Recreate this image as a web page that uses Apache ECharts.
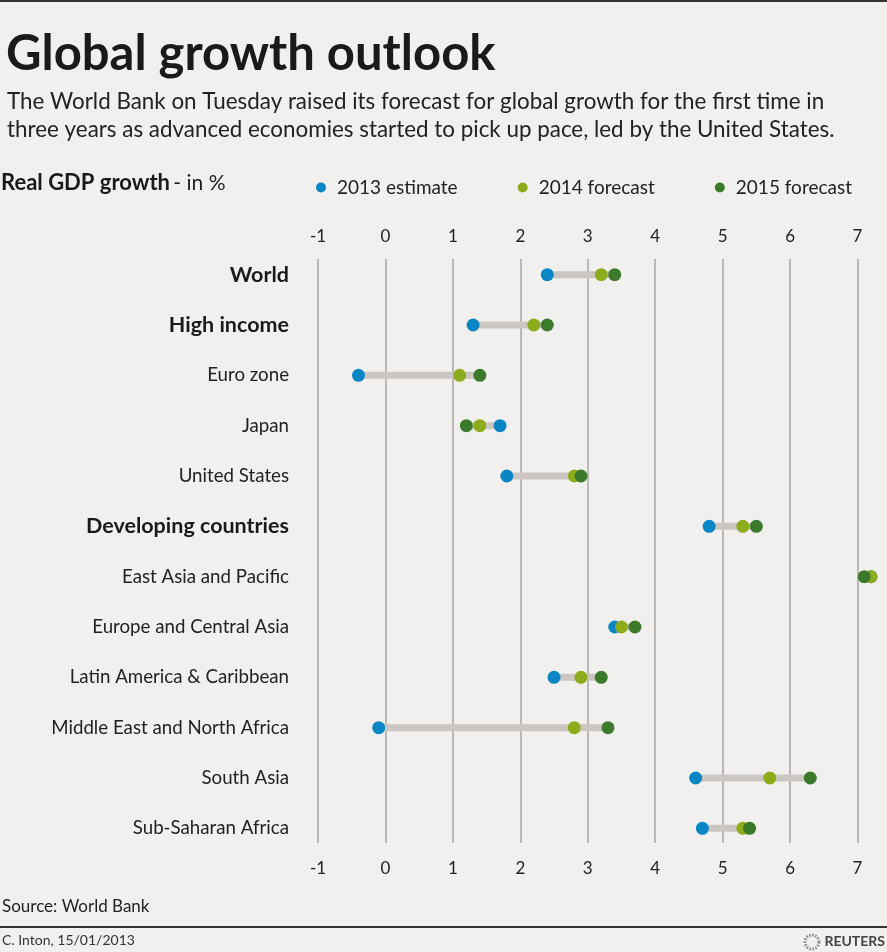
<!DOCTYPE html>
<html>
<head>
<meta charset="utf-8">
<title>Global growth outlook</title>
<script src="https://cdn.jsdelivr.net/npm/echarts@6/dist/echarts.min.js"></script>
<style>
    html, body { margin: 0; padding: 0; background: #f2f0ee; }
    #chart { width: 887px; height: 952px; }
</style>
</head>
<body>
<div id="chart"></div>
<script>
    // regions, top to bottom
    var regions = ['World', 'High income', 'Euro zone', 'Japan', 'United States',
        'Developing countries', 'East Asia and Pacific', 'Europe and Central Asia',
        'Latin America & Caribbean', 'Middle East and North Africa', 'South Asia', 'Sub-Saharan Africa'];
    var boldRegions = ['World', 'High income', 'Developing countries'];

    // real GDP growth, in %
    var est2013 = [2.4, 1.3, -0.4, 1.7, 1.8, 4.8, 7.2, 3.4, 2.5, -0.1, 4.6, 4.7];
    var fc2014  = [3.2, 2.2, 1.1, 1.4, 2.8, 5.3, 7.2, 3.5, 2.9, 2.8, 5.7, 5.3];
    var fc2015  = [3.4, 2.4, 1.4, 1.2, 2.9, 5.5, 7.1, 3.7, 3.2, 3.3, 6.3, 5.4];

    var axisTicks = [-1, 0, 1, 2, 3, 4, 5, 6, 7];

    var seriesNames = ['2013 estimate', '2014 forecast', '2015 forecast'];
    var colors = ['#0a86c5', '#8dac1c', '#3b7a2b'];

    var FONT = 'Lato';

    (function(){
        var myChart = echarts.init(document.getElementById('chart'));

        function points(arr){
            return arr.map(function(v, i){ return [v, i]; });
        }

        // range from lowest to highest value for the grey connector
        var ranges = regions.map(function(r, i){
            var vals = [est2013[i], fc2014[i], fc2015[i]];
            return [Math.min.apply(null, vals), Math.max.apply(null, vals), i];
        });

        var xMin = axisTicks[0], xMax = axisTicks[axisTicks.length - 1];

        function dotSeries(k, arr){
            return {
                name: seriesNames[k], type: 'scatter',
                xAxisIndex: 2, yAxisIndex: 1,
                clip: false,
                symbolSize: 13, itemStyle: { color: colors[k], opacity: 1 },
                data: points(arr)
            };
        }

        var option = {
            backgroundColor: '#f2f0ee',
            textStyle: { fontFamily: FONT },
            animation: false,
            title: [{
                text: 'Global growth outlook',
                left: 1, top: 25,
                textStyle: { fontFamily: FONT, fontSize: 49, fontWeight: 'bold', color: '#1a1a1a' }
            }, {
                text: 'The World Bank on Tuesday raised its forecast for global growth for the first time in\nthree years as advanced economies started to pick up pace, led by the United States.',
                left: 2, top: 83,
                textStyle: { fontFamily: FONT, fontSize: 22.4, fontWeight: 'normal', color: '#222', lineHeight: 28 }
            }],
            legend: {
                data: seriesNames,
                left: 311, top: 173,
                icon: 'circle',
                itemWidth: 10, itemHeight: 10,
                itemGap: 60,
                textStyle: { fontFamily: FONT, fontSize: 19, color: '#222', padding: [0, 0, 0, 6] }
            },
            graphic: [
                { type: 'rect', shape: { x: 0, y: 0, width: 887, height: 2 }, style: { fill: '#333' } },
                { type: 'rect', shape: { x: 0, y: 926, width: 887, height: 2 }, style: { fill: '#333' } },
                {
                    type: 'text', left: 1, top: 172,
                    style: {
                        text: '{b|Real GDP growth} {n|- in %}',
                        rich: {
                            b: { fontFamily: FONT, fontSize: 22, fontWeight: 'bold', fill: '#1a1a1a' },
                            n: { fontFamily: FONT, fontSize: 21, fill: '#222' }
                        }
                    }
                },
                {
                    type: 'text', left: 2, top: 898,
                    style: { text: 'Source: World Bank', fontFamily: FONT, fontSize: 17, fill: '#222' }
                },
                {
                    type: 'text', left: 2, top: 933,
                    style: { text: 'C. Inton, 15/01/2013', fontFamily: FONT, fontSize: 14, fill: '#333' }
                },
                {
                    type: 'circle', shape: { cx: 812, cy: 942, r: 7 },
                    style: { fill: 'none', stroke: '#888', lineWidth: 3, lineDash: [1.5, 1.5] }
                },
                {
                    type: 'text', right: 2, top: 934,
                    style: { text: 'REUTERS', fontFamily: FONT, fontSize: 14, fontWeight: 'bold', fill: '#444' }
                }
            ],
            grid: [
                { left: 318, right: 29.5, top: 259, bottom: 109 },
                { left: 318, right: 29.5, top: 249.5, bottom: 98.5 }
            ],
            xAxis: [{
                gridIndex: 0, type: 'value', position: 'top',
                min: xMin, max: xMax, interval: 1,
                axisLine: { show: false }, axisTick: { show: false },
                axisLabel: { fontFamily: FONT, fontSize: 17, color: '#222', margin: 14 },
                splitLine: { show: true, lineStyle: { color: '#aaa5a0', width: 1.5 } }
            }, {
                gridIndex: 0, type: 'value', position: 'bottom',
                min: xMin, max: xMax, interval: 1,
                axisLine: { show: false }, axisTick: { show: false },
                axisLabel: { fontFamily: FONT, fontSize: 17, color: '#222', margin: 17 },
                splitLine: { show: false }
            }, {
                gridIndex: 1, type: 'value',
                min: xMin, max: xMax, interval: 1,
                show: false
            }],
            yAxis: [{
                gridIndex: 0, type: 'value', show: false
            }, {
                gridIndex: 1, type: 'category',
                data: regions, inverse: true,
                axisLine: { show: false }, axisTick: { show: false },
                splitLine: { show: false },
                axisLabel: {
                    margin: 29,
                    fontFamily: FONT, fontSize: 18.7, color: '#222',
                    formatter: function(v){
                        return boldRegions.indexOf(v) >= 0 ? '{b|' + v + '}' : v;
                    },
                    rich: {
                        b: { fontFamily: FONT, fontSize: 21.5, fontWeight: 'bold', color: '#1a1a1a' }
                    }
                }
            }],
            series: [{
                type: 'custom',
                xAxisIndex: 2, yAxisIndex: 1,
                silent: true,
                clip: false,
                data: ranges,
                renderItem: function(params, api){
                    var p0 = api.coord([api.value(0), api.value(2)]);
                    var p1 = api.coord([api.value(1), api.value(2)]);
                    var h = 7;
                    return {
                        type: 'rect',
                        shape: { x: p0[0], y: p0[1] - h / 2, width: p1[0] - p0[0], height: h },
                        style: { fill: '#cbc6c1' }
                    };
                }
            },
            dotSeries(0, est2013),
            dotSeries(1, fc2014),
            dotSeries(2, fc2015)]
        };

        myChart.setOption(option);
    })();
</script>
</body>
</html>
